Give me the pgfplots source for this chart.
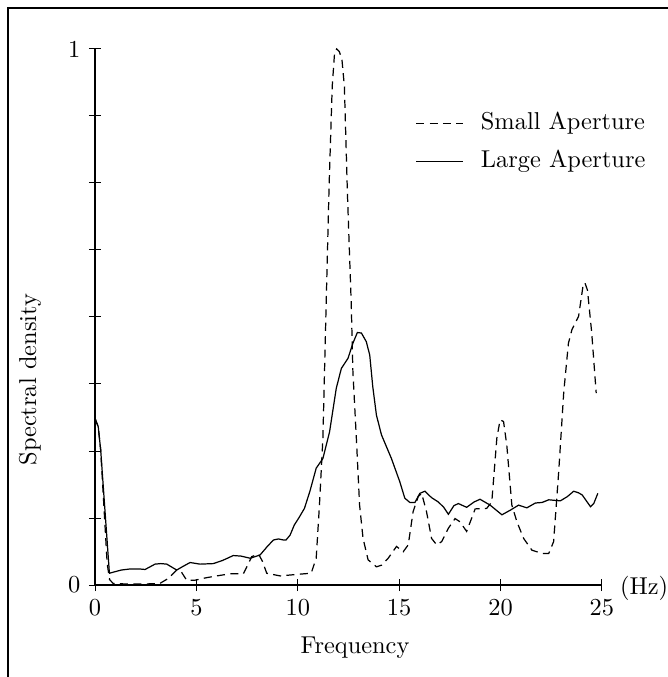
\documentclass[border=0pt]{standalone}
\usepackage{pgfplots}
\pgfplotsset{compat=1.18}
\begin{document}
\begin{tikzpicture}
\useasboundingbox (-38.95pt,-37.7pt) rectangle (234.9pt,239.85pt);
\draw[line width=0.5pt] (-35.67pt,-45pt) -- (-35.67pt,236.6pt) -- (245pt,236.6pt);
\begin{axis}[
  at={(0,0)}, anchor=south west,
  scale only axis, width=207.8pt, height=219.8pt,
  xmin=0, xmax=25, ymin=0, ymax=1,
  enlargelimits=false,
  axis lines=left,
  axis line style={-, line width=0.5pt},
  clip=false,
  xtick={0,5,10,15,20,25},
  ytick={0,0.125,0.25,0.375,0.5,0.625,0.75,0.875,1},
  yticklabels={0,,,,,,,,1},
  tick align=center,
  major tick length=5pt,
  tick style={line width=0.4pt, black},
  xlabel={Frequency},
  xlabel style={at={(axis description cs:0.513,-0.116)}, anchor=center},
  ylabel={Spectral density},
  ylabel style={at={(axis description cs:-0.128,0.383)}, anchor=center},
  legend style={draw=none, fill=none, at={(axis description cs:0.617,0.826)}, anchor=west,
    row sep=2.6pt, nodes={inner sep=2pt, text height=7pt, text depth=2pt}},
  legend cell align=left,
  /tikz/every odd column/.append style={column sep=5pt},
  legend image code/.code={\draw[#1] (0pt,0pt) -- (19.3pt,0pt);},
]
\addplot[black, line width=0.5pt, dash pattern=on 3.3pt off 2.2pt] coordinates {
(0,0.311) (0.16,0.295) (0.28,0.252) (0.60,0.04) (0.72,0.010) (0.9,0.003)
(1.5,0.002) (2.5,0.002) (3.2,0.003) (3.6,0.012) (4.03,0.028) (4.25,0.025)
(4.52,0.009) (4.93,0.009) (5.4,0.013) (5.84,0.016) (6.66,0.021) (7.32,0.021)
(7.5,0.035) (7.73,0.053) (8.06,0.058) (8.25,0.045) (8.47,0.022) (9.13,0.017)
(10.0,0.020) (10.66,0.022) (10.91,0.050) (11.07,0.149) (11.24,0.274) (11.40,0.522)
(11.55,0.75) (11.7,0.93) (11.82,0.995) (11.92,1.0) (12.05,0.995) (12.18,0.98)
(12.3,0.93) (12.45,0.73) (12.64,0.522) (12.72,0.398) (12.89,0.274) (13.05,0.149)
(13.22,0.087) (13.47,0.047) (13.88,0.034) (14.13,0.037) (14.46,0.050) (14.87,0.072)
(15.20,0.062) (15.45,0.075) (15.69,0.137) (15.94,0.165) (16.11,0.171) (16.35,0.137)
(16.60,0.087) (16.85,0.075) (17.10,0.081) (17.43,0.106) (17.76,0.124) (18.0,0.118)
(18.33,0.100) (18.75,0.142) (19.32,0.143) (19.57,0.155) (19.82,0.274) (19.98,0.308)
(20.15,0.305) (20.31,0.261) (20.56,0.149) (20.81,0.118) (21.14,0.087) (21.55,0.065)
(22.05,0.059) (22.38,0.059) (22.62,0.081) (22.87,0.211) (23.12,0.36) (23.35,0.451)
(23.52,0.476) (23.85,0.501) (24.09,0.563) (24.17,0.563) (24.29,0.550) (24.5,0.470)
(24.72,0.358)
};
\addlegendentry{Small Aperture}
\addplot[black, line width=0.5pt] coordinates {
(0,0.311) (0.16,0.295) (0.28,0.252) (0.71,0.022) (0.90,0.024) (1.3,0.028)
(1.73,0.030) (2.2,0.030) (2.47,0.029) (2.96,0.039) (3.25,0.040) (3.54,0.039)
(4.03,0.028) (4.35,0.035) (4.69,0.042) (5.18,0.039) (5.84,0.040) (6.3,0.046)
(6.82,0.055) (7.2,0.054) (7.65,0.050) (8.14,0.056) (8.5,0.072) (8.80,0.084)
(9.05,0.086) (9.29,0.084) (9.42,0.084) (9.62,0.093) (9.83,0.112) (10.05,0.125)
(10.33,0.143) (10.6,0.175) (10.91,0.218) (11.24,0.236) (11.57,0.286) (11.90,0.367)
(12.15,0.404) (12.48,0.423) (12.72,0.451) (12.94,0.471) (13.14,0.470) (13.38,0.454)
(13.55,0.429) (13.7,0.37) (13.88,0.317) (14.13,0.280) (14.62,0.236) (15.03,0.193)
(15.28,0.162) (15.53,0.154) (15.78,0.154) (16.02,0.171) (16.27,0.175) (16.60,0.163)
(16.93,0.155) (17.2,0.145) (17.43,0.132) (17.7,0.148) (17.92,0.152) (18.33,0.145)
(18.7,0.155) (18.99,0.160) (19.49,0.149) (20.07,0.131) (20.5,0.140) (20.89,0.149)
(21.30,0.144) (21.72,0.153) (22.05,0.154) (22.38,0.159) (22.95,0.157) (23.3,0.165)
(23.61,0.175) (23.85,0.172) (24.03,0.168) (24.44,0.146) (24.60,0.152) (24.80,0.171)
};
\addlegendentry{Large Aperture}
\node[anchor=west, inner sep=0pt] at (axis description cs:1.035,-0.006) {(Hz)};
\end{axis}
\end{tikzpicture}
\end{document}
